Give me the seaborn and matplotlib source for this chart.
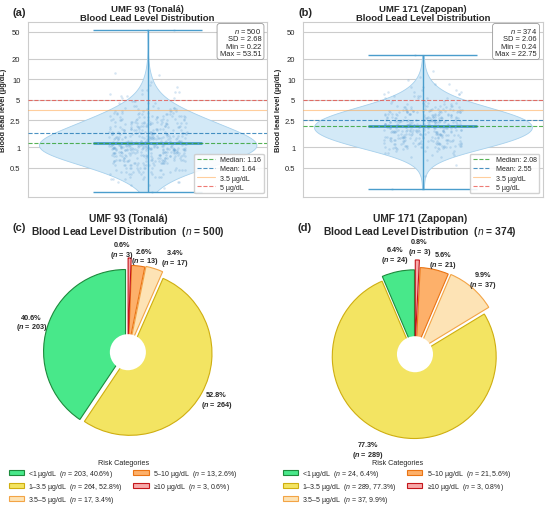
import numpy as np
import matplotlib.pyplot as plt
import seaborn as sns
from matplotlib.patches import Patch, Circle
from matplotlib.ticker import NullLocator

tonala_levels = [0.22, 0.25, 0.28, 0.31, 0.34, 0.37, 0.40, 0.43, 0.46, 0.50, 0.54,
                 0.58, 0.62, 0.66, 0.70, 0.74, 0.78, 0.82, 0.86, 0.90, 0.94, 0.97,
                 1.00, 1.04, 1.08, 1.12, 1.16, 1.20, 1.25, 1.30, 1.36, 1.42, 1.48,
                 1.55, 1.62, 1.70, 1.78, 1.87, 1.96, 2.06, 2.16, 2.27, 2.38, 2.50,
                 2.63, 2.76, 2.90, 3.05, 3.20, 3.35,
                 3.6, 3.8, 4.1, 4.4, 4.7,
                 5.2, 5.6, 6.0, 6.5, 7.0, 7.6, 8.3, 9.2,
                 11.5, 12.5, 53.51]
tonala_counts = [1, 1, 2, 3, 4, 5, 6, 7, 8, 9, 10,
                 11, 11, 12, 12, 13, 13, 14, 14, 15, 16, 16,
                 12, 12, 12, 12, 12, 12, 12, 11, 11, 11, 10,
                 10, 10, 10, 9, 9, 9, 9, 8, 8, 8, 8,
                 7, 7, 7, 6, 6, 6,
                 4, 4, 3, 3, 3,
                 2, 2, 2, 2, 2, 1, 1, 1,
                 1, 1, 1]

zapopan_levels = [0.24, 0.38, 0.55, 0.65, 0.72, 0.78, 0.83, 0.88, 0.93, 0.97,
                  1.00, 1.05, 1.10, 1.16, 1.22, 1.28, 1.35, 1.42, 1.49, 1.57,
                  1.65, 1.73, 1.82, 1.91, 2.00,
                  2.10, 2.20, 2.31, 2.43, 2.55, 2.68, 2.81, 2.95, 3.10, 3.25, 3.40,
                  3.55, 3.7, 3.9, 4.1, 4.3, 4.5, 4.8,
                  5.2, 5.6, 6.0, 6.5, 7.0, 7.6, 8.4, 9.7,
                  10.8, 13.0, 22.75]
zapopan_counts = [1, 1, 1, 1, 2, 2, 3, 4, 4, 5,
                  9, 9, 10, 10, 10, 11, 11, 11, 11, 12,
                  12, 12, 12, 12, 12,
                  14, 13, 13, 12, 12, 11, 11, 10, 10, 10, 9,
                  7, 7, 6, 6, 4, 4, 3,
                  4, 4, 3, 3, 2, 2, 2, 1,
                  1, 1, 1]

sites = ["UMF 93 (Tonalá)", "UMF 171 (Zapopan)"]
n_total = [500, 374]
sd_vals = [2.68, 2.06]
min_vals = [0.22, 0.24]
max_vals = [53.51, 22.75]
median_vals = [1.16, 2.08]
mean_vals = [1.64, 2.55]

categories = ["<1 µg/dL", "1–3.5 µg/dL", "3.5–5 µg/dL", "5–10 µg/dL", "≥10 µg/dL"]
tonala_cat_n = [203, 264, 17, 13, 3]
zapopan_cat_n = [24, 289, 37, 21, 3]

y_ticks = [0.5, 1, 2.5, 5, 10, 20, 50]
y_tick_labels = ["0.5", "1", "2.5", "5", "10", "20", "50"]

pie_colors = ["#48e88a", "#f3e462", "#fde3b5", "#fdb06a", "#f7aaaa"]
pie_edges = ["#1d8a3c", "#cfae10", "#f3a446", "#ea7414", "#c4161c"]
explode = [0.03, 0.03, 0.07, 0.06, 0.15]

sns.set_style("whitegrid")
plt.rcParams["font.family"] = ["Liberation Sans", "DejaVu Sans"]
plt.rcParams["mathtext.fontset"] = "custom"
plt.rcParams["mathtext.rm"] = "Liberation Sans"
plt.rcParams["mathtext.it"] = "Liberation Sans:italic"
plt.rcParams["mathtext.bf"] = "Liberation Sans:italic:bold"
np.random.seed(3)

fig = plt.figure(figsize=(5.5, 5.06), dpi=100)
ax_a = fig.add_axes([0.051, 0.609, 0.435, 0.346])
ax_b = fig.add_axes([0.551, 0.609, 0.436, 0.346])
ax_c = fig.add_axes([0.009, 0.059, 0.447, 0.486])
ax_d = fig.add_axes([0.531, 0.055, 0.447, 0.486])

bar_c = "#4a9dcc"
for i, (ax, lv, ct) in enumerate([(ax_a, tonala_levels, tonala_counts),
                                  (ax_b, zapopan_levels, zapopan_counts)]):
    vals = np.repeat(lv, ct)
    sns.violinplot(y=vals, ax=ax, log_scale=True, cut=0, inner=None, width=1,
                   bw_adjust=2.1, color="#d3e9f7", saturation=1,
                   linecolor="#a6d0ec", linewidth=0.6)
    sns.stripplot(y=vals, ax=ax, log_scale=True, jitter=0.18, size=1.8,
                  color="#5b9bd0", alpha=0.25, zorder=3)
    ax.vlines(0, min_vals[i], max_vals[i], color=bar_c, lw=1, zorder=4)
    ax.hlines([min_vals[i], max_vals[i]], -0.25, 0.25, color=bar_c, lw=1, zorder=4)
    ax.hlines(median_vals[i], -0.25, 0.25, color=bar_c, lw=2, zorder=4)

    ax.axhline(median_vals[i], color="#2ca02c", ls="--", lw=0.8, alpha=0.8, zorder=5,
               label=f"Median: {median_vals[i]:.2f}")
    ax.axhline(mean_vals[i], color="#1f77b4", ls="--", lw=0.8, alpha=0.8, zorder=5,
               label=f"Mean: {mean_vals[i]:.2f}")
    ax.axhline(3.5, color="#ffa64d", ls="-", lw=0.8, alpha=0.55, zorder=5,
               label="3.5 µg/dL")
    ax.axhline(5, color="#e8433a", ls="--", lw=0.8, alpha=0.7, zorder=5,
               label="5 µg/dL")

    ax.set_xlim(-0.55, 0.55)
    ax.set_ylim(0.187, 69.6)
    ax.set_xticks([])
    ax.set_yticks(y_ticks, y_tick_labels)
    ax.yaxis.set_minor_locator(NullLocator())
    ax.tick_params(axis="y", labelsize=5.5, pad=2)
    ax.set_ylabel("Blood lead level (µg/dL)", fontsize=5.3, fontweight="bold", labelpad=2)
    ax.set_title(f"{sites[i]}\nBlood Lead Level Distribution", fontsize=6.8,
                 fontweight="bold", pad=1.5, linespacing=1.0)
    ax.legend(loc="lower right", fontsize=5, handlelength=2.5, labelspacing=0.3,
              borderpad=0.4, framealpha=0.9)
    stats = (f"$n$ = {n_total[i]}\nSD = {sd_vals[i]:.2f}\n"
             f"Min = {min_vals[i]:.2f}\nMax = {max_vals[i]:.2f}")
    ax.text(0.975, 0.975, stats, transform=ax.transAxes, ha="right", va="top",
            fontsize=5.4, linespacing=1.05, zorder=6,
            bbox=dict(boxstyle="round,pad=0.35", fc="white", ec="0.6", lw=0.6))

# pie label nudges (x, y) in radius units, to keep small slices readable
nudges_c = [(0, 0), (0, 0), (0.19, -0.07), (0.05, -0.09), (-0.1, -0.11)]
nudges_d = [(0, 0), (-0.2, 0.0), (0, -0.06), (0.06, -0.08), (0.02, -0.05)]

for i, (ax, cat_n, nudges, leg_x) in enumerate([(ax_c, tonala_cat_n, nudges_c, 0.224),
                                                (ax_d, zapopan_cat_n, nudges_d, 0.722)]):
    total = sum(cat_n)
    wedges, _ = ax.pie(cat_n, colors=pie_colors, explode=explode, startangle=90,
                       counterclock=True, wedgeprops=dict(linewidth=0.8))
    for w, ec in zip(wedges, pie_edges):
        w.set_edgecolor(ec)
    ax.add_patch(Circle((0, 0), 0.22, facecolor="white", edgecolor="none", zorder=5))
    for j, w in enumerate(wedges):
        th = np.deg2rad((w.theta1 + w.theta2) / 2)
        r = 1.2 + explode[j]
        x = r * np.cos(th) + nudges[j][0]
        y = r * np.sin(th) + nudges[j][1]
        ax.text(x, y, f"{cat_n[j] / total * 100:.1f}%\n($\\mathbf{{n}}$ = {cat_n[j]})",
                ha="center", va="center", fontsize=5.2, fontweight="bold", linespacing=1.1)
    ax.set_xlim(-1.5, 1.5)
    ax.set_ylim(-1.5, 1.5)
    ax.set_aspect("equal")
    ax.axis("off")

    handles = [Patch(facecolor=fc, edgecolor=ec, lw=0.8) for fc, ec in zip(pie_colors, pie_edges)]
    labels = [f"{c}  ($n$ = {n}, {n / total * 100:.1f}%)" for c, n in zip(categories, cat_n)]
    fig.legend(handles, labels, loc="upper center", bbox_to_anchor=(leg_x, 0.1),
               ncol=2, frameon=False, fontsize=5.0, title="Risk Categories",
               title_fontsize=5.2, handlelength=2.2, handleheight=0.75,
               handletextpad=0.6, columnspacing=1.5, labelspacing=0.3, borderpad=0.15)

fig.text(0.233, 0.553, f"{sites[0]}\nBlood Lead Level Distribution  ($n$ = {n_total[0]})",
         ha="center", va="center", fontsize=7.4, fontweight="bold", linespacing=1.1)
fig.text(0.763, 0.553, f"{sites[1]}\nBlood Lead Level Distribution  ($n$ = {n_total[1]})",
         ha="center", va="center", fontsize=7.4, fontweight="bold", linespacing=1.1)

for lab, x, y in [("(a)", 0.022, 0.974), ("(b)", 0.542, 0.974),
                  ("(c)", 0.022, 0.549), ("(d)", 0.540, 0.549)]:
    fig.text(x, y, lab, ha="left", va="center", fontsize=8, fontweight="bold")

plt.savefig("out.png", dpi=100)
